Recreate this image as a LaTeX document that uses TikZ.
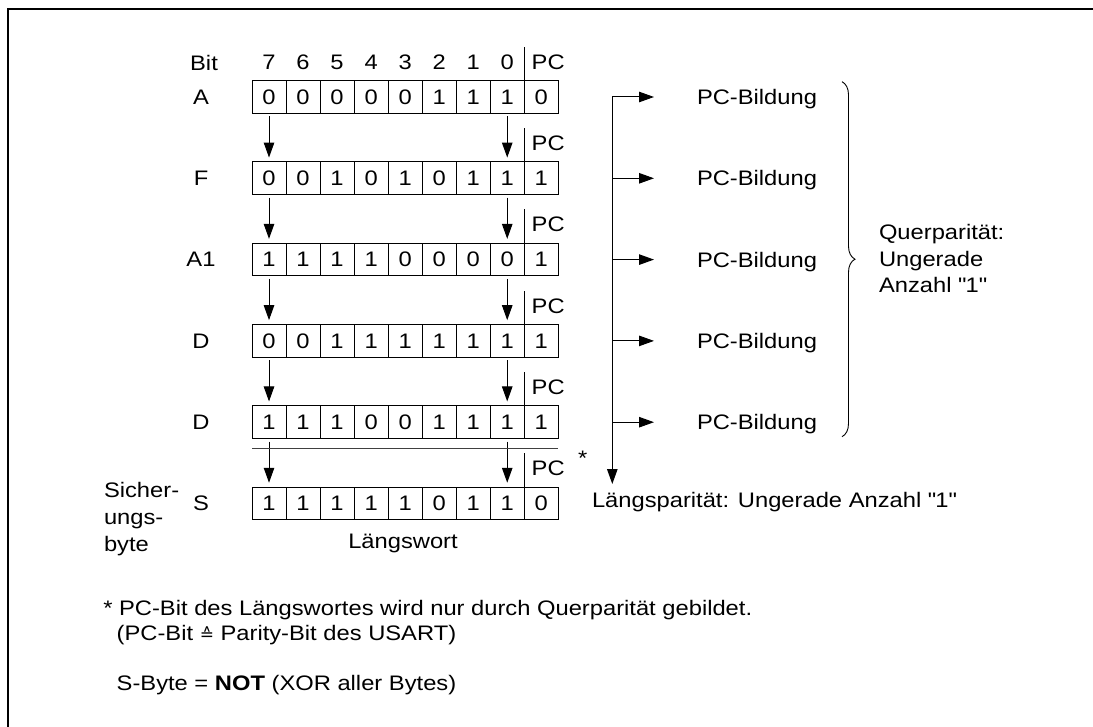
\documentclass[tikz,border=0pt]{standalone}
\usepackage{fontspec}
\setmainfont{Liberation Sans}[FakeStretch=1.13]
\newfontfamily\dejavu{DejaVu Sans}
\usetikzlibrary{arrows.meta,decorations.pathreplacing}
\newcommand\dq{\XeTeXglyph\XeTeXcharglyph"22\relax}
\newcommand\korr{{\dejavu\fontsize{17pt}{17pt}\selectfont ≙}}
\begin{document}
\begin{tikzpicture}[x=1pt,y=-1pt,
  every node/.style={font=\fontsize{21pt}{26pt}\selectfont, inner sep=0pt, outer sep=0pt},
  cell/.style={draw, line width=1pt, minimum width=34.03pt, minimum height=32.7pt},
  arr/.style={line width=1pt, -{Triangle[length=15pt,width=10.5pt]}},
  ln/.style={line width=1pt},
  lbl/.style={anchor=base west}]
\useasboundingbox (0,0) rectangle (1093,727);
% frame
\draw[line width=2pt] (8.3,727) -- (8.3,9) -- (1093,9);
% header
\node (bit) at (204,62.5) {Bit};
% rows
\foreach \lab/\bits [count=\i from 0] in {A/{0,0,0,0,0,1,1,1,0},F/{0,0,1,0,1,0,1,1,1},A1/{1,1,1,1,0,0,0,0,1},D/{0,0,1,1,1,1,1,1,1},D/{1,1,1,0,0,1,1,1,1},S/{1,1,1,1,1,0,1,1,0}} {
  \pgfmathsetmacro\yc{97+81.3*\i}
  \node (lab\i) at (201,\yc) {\lab};
  \foreach \b [count=\k from 0] in \bits {
    \node[cell] (c\i\k) at ({252+34.03*(\k+0.5)},\yc) {\b};
  }
  \draw[ln] (c\i8.north west) -- ++(0,-34);
  \node[anchor=west] (pc\i) at ([xshift=7.5pt,yshift=18.5pt]c\i8.north west) {PC};
}
% bit numbers
\foreach \n [count=\k from 0] in {7,6,5,4,3,2,1,0} {
  \node (bn\k) at (c0\k |- bit) {\n};
}
% vertical arrows
\foreach \i in {0,...,4} {
  \pgfmathtruncatemacro\j{\i+1}
  \draw[arr, shorten <=3pt, shorten >=4.4pt] (c\i0.south) -- (c\j0.north);
  \draw[arr, shorten <=3pt, shorten >=4.4pt] (c\i7.south) -- (c\j7.north);
}
% separator line above S
\draw[line width=1pt, black!75] ([yshift=-10.4pt]c40.south west) -- ([yshift=-10.4pt]c48.south east);
\node[anchor=base] (star) at (582.7,465.4) {*};
% left label
\node[lbl] (sich1) at (104,497) {Sicher-};
\node[lbl] (sich2) at (104,524) {ungs-};
\node[lbl] (sich3) at (104,551) {byte};
\node[anchor=base] (lw) at (403,548) {Längswort};
% right bus
\coordinate (bus0) at (612.3,97);
\coordinate (busend) at (612.3,484);
\draw[arr] (bus0) -- (busend);
\foreach \i in {0,...,4} {
  \pgfmathsetmacro\yc{97+81.3*\i}
  \coordinate (bus\i) at (612.3,\yc);
  \coordinate (tip\i) at (654,\yc);
  \draw[arr] (bus\i) -- (tip\i);
  \node[lbl] (pcb\i) at (697,\yc+7.6) {PC-Bildung};
}
\node[lbl] (lp) at (592,507) {Längsparität: Ungerade Anzahl \dq1\dq};
% brace
\coordinate (brt) at (842,81.7);
\coordinate (brb) at (842,436.7);
\draw[line width=0.9pt, decorate, decoration={brace, amplitude=13pt}] (brt) -- (brb);
\node[lbl] (qp1) at (879,240) {Querparität:};
\node[lbl] (qp2) at (879,266.5) {Ungerade};
\node[lbl] (qp3) at (879,293) {Anzahl \dq1\dq};
% notes
\node[lbl] (n1) at (103.3,615) {* PC-Bit des Längswortes wird nur durch Querparität gebildet.};
\node[lbl] (n2) at (116.7,640) {(PC-Bit \korr\ Parity-Bit des USART)};
\node[lbl] (n3) at (116.7,690) {S-Byte = \textbf{NOT} (XOR aller Bytes)};
\end{tikzpicture}
\end{document}
